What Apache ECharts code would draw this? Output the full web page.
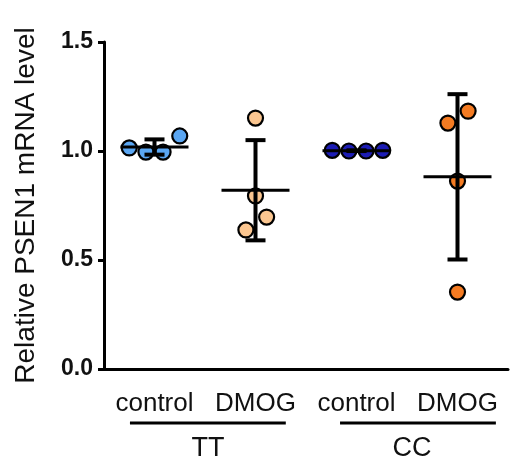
<!DOCTYPE html>
<html>
<head>
<meta charset="utf-8">
<script src="https://cdn.jsdelivr.net/npm/echarts@6/dist/echarts.min.js"></script>
<style>
  html, body { margin: 0; padding: 0; background: #fff; }
  #chart-container { width: 511px; height: 466px; }
</style>
</head>
<body>
<div id="chart-container"></div>
<script>
'use strict';

const categories = ['control', 'DMOG', 'control', 'DMOG'];
const groups = ['TT', 'CC'];
const yTicks = ['0.0', '0.5', '1.0', '1.5'];

// individual measurements, one array per condition
const ttControl = [1.014, 0.995, 0.995, 1.069];
const ttDmog = [1.151, 0.794, 0.697, 0.638];
const ccControl = [1.003, 1.0, 1.0, 1.003];
const ccDmog = [1.183, 1.128, 0.862, 0.353];

// horizontal jitter of each point within its column
const ttControlJitter = [-0.25, -0.085, 0.085, 0.25];
const ttDmogJitter = [0, 0, 0.11, -0.095];
const ccControlJitter = [-0.24, -0.075, 0.095, 0.26];
const ccDmogJitter = [0.105, -0.095, 0, 0];

const colors = ['#5aa6f2', '#fbc690', '#1c1cb4', '#f47b22'];
const FONT = '"Liberation Sans", Arial, sans-serif';

const sets = [ttControl, ttDmog, ccControl, ccDmog];
const jitters = [ttControlJitter, ttDmogJitter, ccControlJitter, ccDmogJitter];

function mean(a) {
    return a.reduce((s, v) => s + v, 0) / a.length;
}
function sd(a) {
    const m = mean(a);
    return Math.sqrt(a.reduce((s, v) => s + (v - m) * (v - m), 0) / (a.length - 1));
}

const summary = sets.map((a, i) => [i, mean(a), mean(a) - sd(a), mean(a) + sd(a)]);

const myChart = echarts.init(document.getElementById('chart-container'), null, { renderer: 'canvas' });

const scatterSeries = sets.map((a, i) => ({
    type: 'scatter',
    xAxisIndex: 1,
    symbol: 'circle',
    symbolSize: 15,
    z: 2,
    itemStyle: {
        color: colors[i],
        borderColor: '#000',
        borderWidth: 2.2,
        opacity: 1
    },
    data: a.map((v, k) => [i + jitters[i][k], v])
}));

const option = {
    backgroundColor: '#fff',
    animation: false,
    grid: { left: 104, right: 3, top: 42, bottom: 97 },
    xAxis: [
        {
            type: 'category',
            data: categories,
            axisLine: { lineStyle: { color: '#000', width: 3 } },
            axisTick: { alignWithLabel: true, length: 7, lineStyle: { color: '#000', width: 3 } },
            axisLabel: { color: '#111', fontSize: 26, fontFamily: FONT, margin: 22, interval: 0 },
            splitLine: { show: false }
        },
        {
            type: 'value',
            min: -0.5,
            max: 3.5,
            show: false
        }
    ],
    yAxis: {
        type: 'value',
        min: 0,
        max: 1.5,
        interval: 0.5,
        name: 'Relative PSEN1 mRNA level',
        nameLocation: 'middle',
        nameGap: 64,
        nameTextStyle: { color: '#111', fontSize: 28, fontFamily: FONT },
        axisLine: { show: true, onZero: false, lineStyle: { color: '#000', width: 3 } },
        axisTick: { show: true, length: 6, lineStyle: { color: '#000', width: 3 } },
        axisLabel: {
            color: '#111', fontSize: 23, fontWeight: 'bold', fontFamily: FONT, margin: 11,
            formatter: (v) => yTicks[Math.round(v / 0.5)]
        },
        splitLine: { show: false }
    },
    series: scatterSeries.concat([{
        type: 'custom',
        xAxisIndex: 1,
        z: 5,
        data: summary,
        renderItem: (params, api) => {
            const x = api.value(0);
            const m = api.coord([x, api.value(1)]);
            const lo = api.coord([x, api.value(2)]);
            const hi = api.coord([x, api.value(3)]);
            const meanHalf = 34;
            const capHalf = 10;
            const stroke = { stroke: '#000', lineWidth: 4 };
            return {
                type: 'group',
                children: [
                    { type: 'line', shape: { x1: lo[0], y1: lo[1], x2: hi[0], y2: hi[1] }, style: stroke },
                    { type: 'line', shape: { x1: hi[0] - capHalf, y1: hi[1], x2: hi[0] + capHalf, y2: hi[1] }, style: stroke },
                    { type: 'line', shape: { x1: lo[0] - capHalf, y1: lo[1], x2: lo[0] + capHalf, y2: lo[1] }, style: stroke },
                    { type: 'line', shape: { x1: m[0] - meanHalf, y1: m[1], x2: m[0] + meanHalf, y2: m[1] }, style: { stroke: '#000', lineWidth: 3 } }
                ]
            };
        }
    }])
};

myChart.setOption(option);

// group brackets under the category labels, placed through the hidden value axis
const groupSpans = [[-0.243, 1.30, 0.53], [1.837, 3.38, 2.55]];
const lineY = 423;
const textY = 449;
const elements = [];
groupSpans.forEach((g, i) => {
    const x1 = myChart.convertToPixel({ xAxisIndex: 1 }, g[0]);
    const x2 = myChart.convertToPixel({ xAxisIndex: 1 }, g[1]);
    const xc = myChart.convertToPixel({ xAxisIndex: 1 }, g[2]);
    elements.push({
        type: 'line',
        shape: { x1: x1, y1: lineY, x2: x2, y2: lineY },
        style: { stroke: '#000', lineWidth: 3 }
    });
    elements.push({
        type: 'text',
        x: xc,
        y: textY,
        style: {
            text: groups[i], fill: '#111', fontSize: 27, fontFamily: FONT,
            align: 'center', verticalAlign: 'middle'
        }
    });
});
myChart.setOption({ graphic: elements });

window.addEventListener('resize', myChart.resize);
</script>
</body>
</html>
